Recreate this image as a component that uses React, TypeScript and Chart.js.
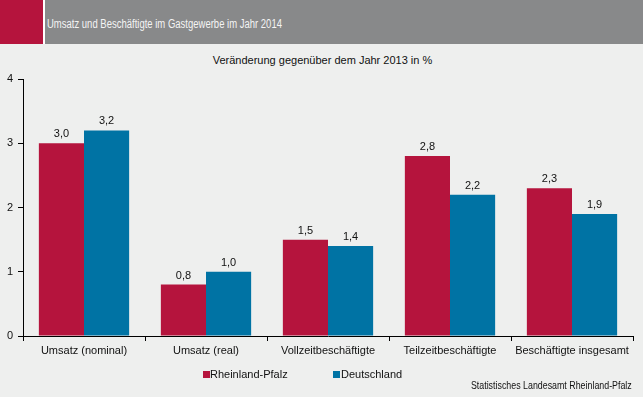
import React, { useEffect, useRef } from "react";
import { Chart, registerables } from "chart.js";

Chart.register(...registerables);

const categories = [
  "Umsatz (nominal)",
  "Umsatz (real)",
  "Vollzeitbeschäftigte",
  "Teilzeitbeschäftigte",
  "Beschäftigte insgesamt",
];
const rlpValues = [3.0, 0.8, 1.5, 2.8, 2.3];
const deValues = [3.2, 1.0, 1.4, 2.2, 1.9];
const yTicks = [0, 1, 2, 3, 4];

const RED = "#B5143D";
const BLUE = "#0073A4";
const BG = "#EEEFEE";
const FONT = "'Liberation Sans', Arial, sans-serif";

const valueLabels = {
  id: "valueLabels",
  afterDatasetsDraw(chart: any) {
    const ctx = chart.ctx;
    ctx.save();
    ctx.font = `11px ${FONT}`;
    ctx.fillStyle = "#111";
    ctx.textAlign = "center";
    ctx.textBaseline = "alphabetic";
    chart.data.datasets.forEach((ds: any, i: number) => {
      const meta = chart.getDatasetMeta(i);
      meta.data.forEach((el: any, j: number) => {
        const v = ds.data[j] as number;
        ctx.fillText(v.toFixed(1).replace(".", ","), el.x, el.y - 6);
      });
    });
    ctx.restore();
  },
};

export default function App() {
  const ref = useRef<HTMLCanvasElement | null>(null);
  useEffect(() => {
    if (!ref.current) return;
    const chart = new Chart(ref.current, {
      type: "bar",
      data: {
        labels: categories,
        datasets: [
          { label: "Rheinland-Pfalz", data: rlpValues, backgroundColor: RED },
          { label: "Deutschland", data: deValues, backgroundColor: BLUE },
        ],
      },
      options: {
        animation: false,
        responsive: false,
        maintainAspectRatio: false,
        layout: { padding: { top: 35, right: 10, left: 0, bottom: 0 } },
        datasets: { bar: { categoryPercentage: 0.74, barPercentage: 1 } },
        plugins: { legend: { display: false }, tooltip: { enabled: false } },
        scales: {
          x: {
            afterFit: (s: any) => {
              s.height = 61;
            },
            grid: {
              display: true,
              offset: true,
              drawOnChartArea: false,
              drawTicks: true,
              tickLength: 5,
              color: "#000",
            },
            border: { display: true, color: "#000", width: 1 },
            ticks: {
              color: "#111",
              font: { family: FONT, size: 11 },
              padding: 3,
              maxRotation: 0,
              autoSkip: false,
            },
          },
          y: {
            min: 0,
            max: 4,
            afterFit: (s: any) => {
              s.width = 23;
            },
            afterBuildTicks: (s: any) => {
              s.ticks = yTicks.map((v) => ({ value: v }));
            },
            grid: {
              display: true,
              drawOnChartArea: false,
              drawTicks: true,
              tickLength: 5,
              color: "#000",
            },
            border: { display: true, color: "#000", width: 1 },
            ticks: {
              color: "#111",
              font: { family: FONT, size: 11 },
              padding: 5,
              stepSize: 1,
            },
          },
        },
      },
      plugins: [valueLabels],
    });
    return () => chart.destroy();
  }, []);

  return (
    <div
      style={{
        position: "absolute",
        left: 0,
        top: 0,
        width: 643,
        height: 397,
        background: BG,
        overflow: "hidden",
        fontFamily: FONT,
      }}
    >
      <div style={{ position: "absolute", left: 0, top: 0, width: 43, height: 44, background: RED }} />
      <div style={{ position: "absolute", left: 43, top: 0, width: 2, height: 44, background: "#fff" }} />
      <div style={{ position: "absolute", left: 45, top: 0, width: 598, height: 44, background: "#88898A" }} />
      <div
        style={{
          position: "absolute",
          left: 47,
          top: 16,
          fontSize: 12.5,
          color: "#F4F4F4",
          whiteSpace: "nowrap",
          lineHeight: "16px",
          transform: "scaleX(0.76)",
          transformOrigin: "left center",
        }}
      >
        Umsatz und Beschäftigte im Gastgewerbe im Jahr 2014
      </div>
      <div
        style={{
          position: "absolute",
          left: 0,
          width: 643,
          top: 53,
          textAlign: "center",
          fontSize: 11,
          color: "#111",
          lineHeight: "14px",
        }}
      >
        <span style={{ position: "relative", left: 1 }}>Veränderung gegenüber dem Jahr 2013 in %</span>
      </div>
      <canvas ref={ref} width={643} height={353} style={{ position: "absolute", left: 0, top: 44 }} />
      <div style={{ position: "absolute", left: 203, top: 371, width: 7, height: 7, background: RED }} />
      <div style={{ position: "absolute", left: 210, top: 367, fontSize: 11, color: "#111", lineHeight: "14px", whiteSpace: "nowrap" }}>
        Rheinland-Pfalz
      </div>
      <div style={{ position: "absolute", left: 333, top: 371, width: 7, height: 7, background: BLUE }} />
      <div style={{ position: "absolute", left: 341, top: 367, fontSize: 11, color: "#111", lineHeight: "14px", whiteSpace: "nowrap" }}>
        Deutschland
      </div>
      <div
        style={{
          position: "absolute",
          right: 11,
          top: 380,
          fontSize: 10,
          color: "#111",
          lineHeight: "12px",
          whiteSpace: "nowrap",
          transform: "scaleX(0.885)",
          transformOrigin: "right center",
        }}
      >
        Statistisches Landesamt Rheinland-Pfalz
      </div>
    </div>
  );
}
